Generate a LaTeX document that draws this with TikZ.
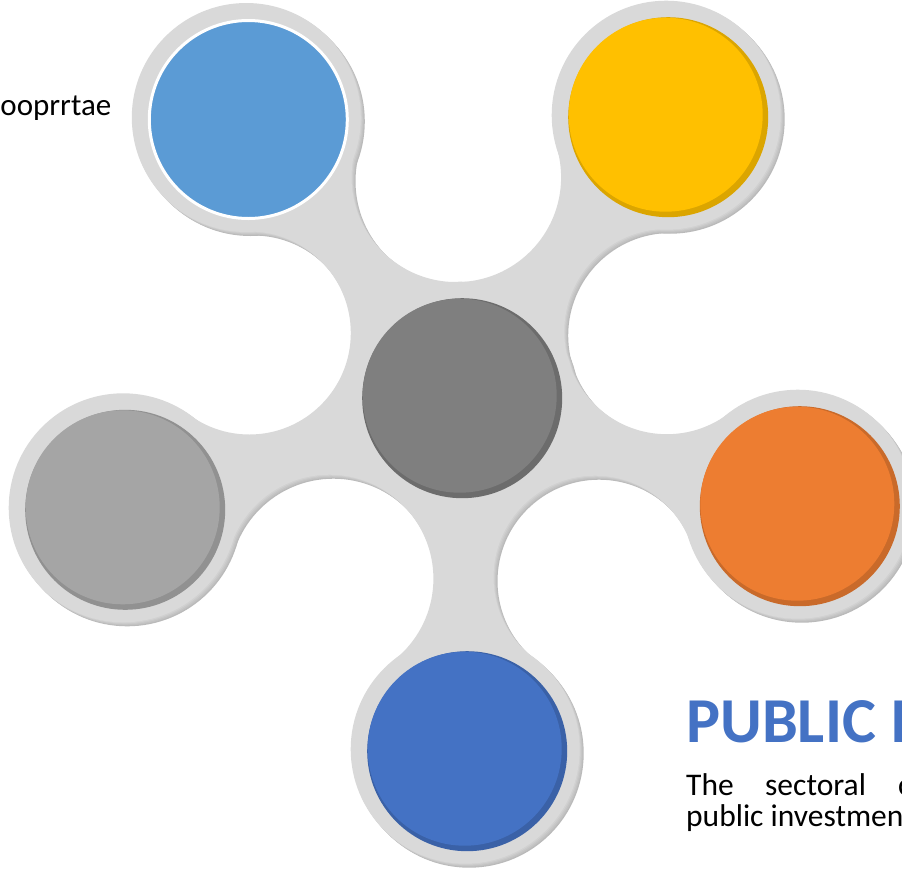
\documentclass[tikz,border=0pt]{standalone}
\usepackage{fontspec}
\setmainfont{Carlito}
\definecolor{hubgray}{HTML}{7F7F7F}
\definecolor{skyblue}{HTML}{5B9BD5}
\definecolor{gold}{HTML}{FFC000}
\definecolor{silver}{HTML}{A5A5A5}
\definecolor{tangerine}{HTML}{ED7D31}
\definecolor{royal}{HTML}{4472C4}
\tikzset{
  disk/.style={circle, inner sep=0pt, outer sep=0pt, minimum size=200pt},
  bodytext/.style={anchor=base west, inner sep=0pt, font=\fontsize{31.5}{38}\selectfont},
}
\newcommand{\backdrop}[1]{%
  \begin{scope}
    \clip (668.2,-117.2) -- (668.8,-333.6) -- (799.8,-506.2) -- (597,-579.2) -- (467.2,-751.2) -- (331.4,-580.7) -- (125.2,-509.8) -- (251.3,-335) -- (248.3,-119.5) -- (458.3,-179.3) -- cycle;
    \fill[#1, even odd rule] (-20,20) rectangle (922,-888)
      (458.3,-179.3) circle (104.8) (251.3,-335) circle (101.5) (331.4,-580.7) circle (104)
      (597,-579.2) circle (101.5) (668.8,-333.6) circle (102.6);
  \end{scope}
  \foreach \x/\y in {248.3/-119.5, 668.2/-117.2, 125.2/-509.8, 799.8/-506.2, 467.2/-751.2, 462.2/-398.2}
    \fill[#1] (\x,\y) circle (114.5);
}

\begin{document}
\begin{tikzpicture}[x=1pt, y=1pt]
\clip (0,0) rectangle (902,-868);
\fill[white] (0,0) rectangle (902,-868);
\foreach \s/\c in {2/black!27, 1/black!24, 0/black!21, -1/black!18, -2/black!15}
  {\begin{scope}[shift={(\s,-\s)}]\backdrop{\c}\end{scope}}
\node[disk, fill=hubgray!85!black] (hub) at (462.2,-398.2) {};
\fill[hubgray] ([shift={(-2.5,2.5)}]hub.center) circle (97);
\node[disk, fill=gold!86!black] (gold) at (668.2,-117.2) {};
\fill[gold] ([shift={(-2.5,2.5)}]gold.center) circle (97);
\node[disk, fill=silver!88!black] (silver) at (125.2,-509.8) {};
\fill[silver] ([shift={(-2.5,2.5)}]silver.center) circle (97);
\node[disk, fill=tangerine!85!black] (tangerine) at (799.8,-506.2) {};
\fill[tangerine] ([shift={(-2.5,2.5)}]tangerine.center) circle (97);
\node[disk, fill=royal!85!black] (royal) at (467.2,-751.2) {};
\fill[royal] ([shift={(-2.5,2.5)}]royal.center) circle (97);
\node[disk, minimum size=198pt, fill=skyblue, draw=white, line width=3pt] (sky) at (248.3,-119.5) {};
\node[anchor=base east, inner sep=0pt, font=\fontsize{31}{38}\selectfont] (tag) at (111.5,-115) {ooprrtae};
\node[anchor=base west, inner sep=0pt, text=royal, font=\bfseries\fontsize{64}{72}\selectfont] (title) at (686,-742.7) {PUBLIC I};
\node[bodytext] (lineone) at (686,-795) {\makebox[79pt][l]{The}\makebox[133pt][l]{sectoral}c};
\node[bodytext] (linetwo) at (686,-826.7) {public investmen};
\end{tikzpicture}
\end{document}
